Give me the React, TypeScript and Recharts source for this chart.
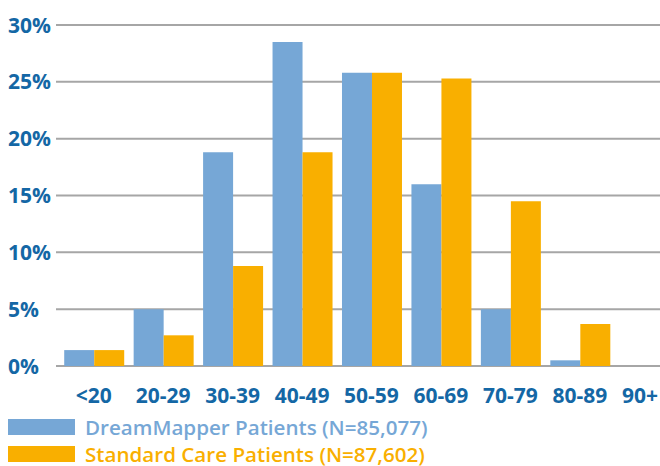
import { Bar, BarChart, CartesianGrid, XAxis, YAxis } from 'recharts';

const ageGroups = ['<20', '20-29', '30-39', '40-49', '50-59', '60-69', '70-79', '80-89', '90+'];
const dreamMapper = [1.4, 5.0, 18.8, 28.5, 25.8, 16.0, 5.0, 0.5, 0];
const standardCare = [1.4, 2.7, 8.8, 18.8, 25.8, 25.3, 14.5, 3.7, 0];
const percentTicks = [0, 5, 10, 15, 20, 25, 30];
const seriesNames = ['DreamMapper Patients (N=85,077)', 'Standard Care Patients (N=87,602)'];
const seriesColors = ['#76A7D6', '#F9AF00'];

const FONT = '"Open Sans", sans-serif';
const TICK_COLOR = '#1467A5';

const data = ageGroups.map((age, i) => ({
  age,
  dreamMapper: dreamMapper[i],
  standardCare: standardCare[i],
}));

function YTick({ y, payload }: any) {
  return (
    <text x={0} y={y} dy="0.36em" fill={TICK_COLOR} fontSize={21} fontWeight={700} fontFamily={FONT}>
      {payload.value}%
    </text>
  );
}

function XTick({ x, y, payload }: any) {
  // keep the last label inside the visible page
  const cx = Math.min(x, 632);
  return (
    <text x={cx} y={y} dy={29} textAnchor="middle" fill={TICK_COLOR} fontSize={21} fontWeight={700} fontFamily={FONT}>
      {payload.value}
    </text>
  );
}

export default function App() {
  return (
    <div style={{ fontFamily: FONT, width: 652, height: 458, overflow: 'hidden' }}>
      <style>{'html{overflow:hidden} body{margin:8px 0 0 8px}'}</style>
      <BarChart
        width={690}
        height={410}
        data={data}
        margin={{ top: 17, right: 14, bottom: 0, left: 0 }}
        barCategoryGap="7.5%"
        barGap={0}
      >
        <XAxis
          dataKey="age"
          axisLine={false}
          tickLine={false}
          height={52}
          interval={0}
          padding={{ left: 3, right: 0 }}
          tick={<XTick />}
        />
        <YAxis
          domain={[0, 30]}
          ticks={percentTicks}
          axisLine={false}
          tickLine={false}
          width={48}
          tick={<YTick />}
        />
        <Bar dataKey="dreamMapper" name={seriesNames[0]} fill={seriesColors[0]} isAnimationActive={false} />
        <Bar dataKey="standardCare" name={seriesNames[1]} fill={seriesColors[1]} isAnimationActive={false} />
        <CartesianGrid vertical={false} stroke="#A6A6A6" strokeWidth={2} />
      </BarChart>
      <div style={{ marginTop: -5 }}>
        {seriesNames.map((name, i) => (
          <div key={name} style={{ display: 'flex', alignItems: 'center', height: 27 }}>
            <span style={{ width: 67, height: 16, background: seriesColors[i], display: 'inline-block' }} />
            <span
              style={{
                marginLeft: 10,
                color: seriesColors[i],
                fontSize: 20.6,
                fontWeight: 600,
                lineHeight: '24px',
                whiteSpace: 'nowrap',
              }}
            >
              {name}
            </span>
          </div>
        ))}
      </div>
    </div>
  );
}
